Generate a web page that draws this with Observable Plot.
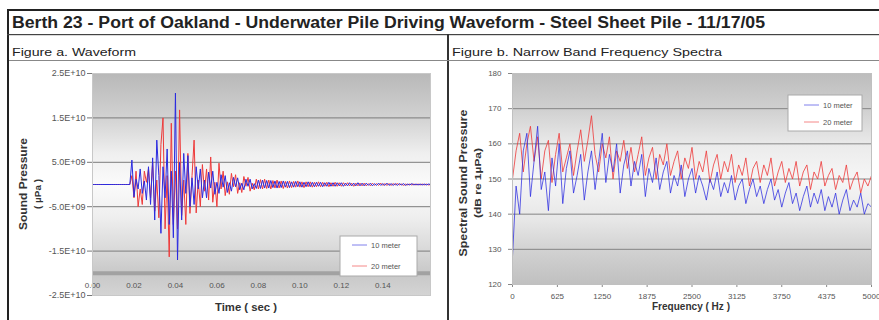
<!DOCTYPE html>
<html><head><meta charset="utf-8">
<script src="https://cdn.jsdelivr.net/npm/d3@7"></script>
<script src="https://cdn.jsdelivr.net/npm/@observablehq/plot@0.6"></script>
<style>
body{margin:0;background:#fff;}
#wrap{position:relative;width:879px;height:320px;overflow:hidden;background:#fff;font-family:"Liberation Sans",Arial,sans-serif;}
#chartA,#chartB,#overlay{position:absolute;top:0;}
#chartA{left:0;} #chartB{left:448px;}
#overlay{left:0;pointer-events:none;}
</style></head><body>
<div id="wrap">
<svg width="0" height="0" style="position:absolute">
<defs>
<linearGradient id="gA" x1="0" y1="0" x2="0" y2="1">
 <stop offset="0" stop-color="#b8b8b8"/>
 <stop offset="0.2" stop-color="#d2d2d2"/>
 <stop offset="0.36" stop-color="#efefef"/>
 <stop offset="0.5" stop-color="#fbfbfb"/>
 <stop offset="0.65" stop-color="#eeeeee"/>
 <stop offset="0.8" stop-color="#d8d8d8"/>
 <stop offset="0.9" stop-color="#c8c8c8"/>
 <stop offset="1" stop-color="#d4d4d4"/>
</linearGradient>
<linearGradient id="gB" x1="0" y1="0" x2="0" y2="1">
 <stop offset="0" stop-color="#bdbdbd"/>
 <stop offset="0.17" stop-color="#d0d0d0"/>
 <stop offset="0.35" stop-color="#ececec"/>
 <stop offset="0.5" stop-color="#f6f6f6"/>
 <stop offset="0.7" stop-color="#e6e6e6"/>
 <stop offset="0.85" stop-color="#d0d0d0"/>
 <stop offset="1" stop-color="#c0c0c0"/>
</linearGradient>
</defs></svg>
<div id="chartA"></div>
<div id="chartB"></div>
<svg id="overlay" width="879" height="320"></svg>
</div>
<script>
// ---------- DATA ----------
const mainTitle = "Berth 23 - Port of Oakland - Underwater Pile Driving Waveform - Steel Sheet Pile - 11/17/05";
const panelTitles = ["Figure a. Waveform", "Figure b. Narrow Band Frequency Spectra"];
const seriesNames = ["10 meter", "20 meter"];
const seriesColors = ["#2b2be0", "#ee3a3a"];

// Figure a: waveform, sound pressure in units of 1e9 µPa, one sample per millisecond
const waveTimeStep = 0.001;
const wave10m = [
0,0,0,0,0,0,0,0,0,0,
0,0,0,0,0,0,0,0,0,
5.5,-2.8,1.2,-1.0,3.5,-2.0,0.8,-3.5,4.0,-4.5,
6.0,-8.0,10.0,2.0,-11.0,4.0,-3.0,8.0,-9.0,3.0,
-12.0,20.6,-17.0,5.0,-8.0,7.0,-2.0,6.5,-5.0,1.5,
-4.5,4.0,-1.0,3.5,-3.0,1.0,-3.0,2.8,-0.8,3.0,
-2.2,0.5,-2.0,2.2,-0.6,2.0,-1.8,0.4,-1.5,1.6,
-0.5,1.5,-1.2,0.3,-1.2,1.2,-0.4,1.2,-1.0,0.2,
-0.9,1.0,
-0.9,1.0,-0.8,0.9,-0.8,0.9,-0.7,0.8,-0.8,0.7,
-0.7,0.8,-0.6,0.7,-0.7,0.6,-0.6,0.7,-0.5,0.6,
-0.6,0.5,-0.5,0.6,-0.5,0.5,-0.5,0.5,-0.4,0.5,
-0.5,0.4,-0.4,0.5,-0.4,0.4,-0.4,0.4,-0.3,0.4,
-0.4,0.3,-0.3,0.4,-0.3,0.3,-0.3,0.4,-0.3,0.3,
-0.3,0.3,-0.2,0.3,-0.3,0.2,-0.2,0.3,-0.2,0.2,
-0.2,0.3,-0.2,0.2,-0.2,0.2,-0.2,0.2,-0.1,0.2,
-0.2,0.1,-0.1,0.2,-0.1,0.1,-0.1,0.1,-0.1,0.1,
-0.1,0.1,0
];
const wave20m = [
0,0,0,0,0,0,0,0,0,0,
0,0,0,0,0,0,0,0,0,
2.0,-3.0,3.0,-5.0,-1.0,-4.5,3.0,0.5,3.5,-3.0,
5.0,-6.0,1.0,-7.5,9.0,15.0,-10.0,2.0,-16.3,13.8,
-9.0,3.0,-10.0,16.8,-7.0,1.0,-9.0,7.0,-6.5,2.0,
10.0,-6.4,1.0,-5.0,4.5,-1.5,3.5,-3.5,6.2,-4.0,
0.5,-5.0,4.8,-1.0,3.0,-2.5,0.6,-2.2,2.5,-0.5,
2.2,-2.0,0.4,-1.8,1.8,-0.4,1.6,-1.5,0.3,-1.2,
1.2,-1.0,
1.1,-1.0,1.2,-0.9,1.0,-1.0,0.9,-0.8,1.0,-0.8,
0.8,-0.9,0.7,-0.8,0.8,-0.7,0.7,-0.6,0.8,-0.6,
0.6,-0.7,0.6,-0.5,0.6,-0.6,0.5,-0.5,0.6,-0.5,
0.5,-0.4,0.5,-0.5,0.4,-0.4,0.5,-0.4,0.4,-0.4,
0.4,-0.3,0.4,-0.3,0.3,-0.4,0.3,-0.3,0.3,-0.3,
0.3,-0.3,0.2,-0.3,0.3,-0.2,0.2,-0.2,0.3,-0.2,
0.2,-0.2,0.2,-0.2,0.2,-0.1,0.2,-0.1,0.1,-0.2,
0.1,-0.1,0.1,-0.1,0.1,-0.1,0.1,-0.1,0.1,-0.1,
0.1,-0.1,0
];
const waveYTicks = [25, 15, 5, -5, -15, -25];
const waveYTickLabels = ["2.5E+10", "1.5E+10", "5.0E+09", "-5.0E+09", "-1.5E+10", "-2.5E+10"];
const waveXTicks = [0, 0.02, 0.04, 0.06, 0.08, 0.10, 0.12, 0.14];
const waveXTickLabels = ["0.00", "0.02", "0.04", "0.06", "0.08", "0.10", "0.12", "0.14"];
const waveAxisCross = -20;

// Figure b: narrow band spectra, dB re 1µPa, every 50 Hz
const specStep = 50;
const spec10m = [
128,148,140,158,163,145,155,165,147,152,
141,156,148,160,143,153,158,146,151,157,
144,152,158,147,155,163,149,157,152,160,
146,154,158,148,155,151,157,145,153,149,
156,147,152,155,146,151,148,154,145,150,
153,146,151,148,144,150,147,152,145,149,
146,151,144,148,150,143,147,150,145,148,
143,147,150,144,147,142,146,149,143,146,
141,145,148,142,146,143,147,141,145,142,
146,140,144,147,141,144,142,146,140,143,
142
];
const spec20m = [
150,158,163,152,160,165,155,162,150,158,
161,149,157,163,152,156,160,151,158,164,
155,161,168,157,152,160,156,162,150,158,
155,161,153,159,152,157,162,151,156,159,
150,157,154,160,151,155,158,150,156,153,
159,150,155,152,158,149,154,157,150,155,
152,157,149,154,151,156,148,153,155,149,
154,151,156,148,152,155,149,153,150,155,
148,152,154,147,152,150,155,148,151,153,
147,151,149,154,147,150,152,146,150,148,
151
];
const specYTicks = [120, 130, 140, 150, 160, 170, 180];
const specXTicks = [0, 625, 1250, 1875, 2500, 3125, 3750, 4375, 5000];
const specXTickLabels = ["0", "625", "1250", "1875", "2500", "3125", "3750", "4375", "5000"];

// ---------- TABLES ----------
const waveA = wave10m.map((v, i) => ({t: i * waveTimeStep, v}));
const waveB = wave20m.map((v, i) => ({t: i * waveTimeStep, v}));
const specA = spec10m.map((v, i) => ({f: i * specStep, v}));
const specB = spec20m.map((v, i) => ({f: i * specStep, v}));

const font = '"Liberation Sans", Arial, sans-serif';

const chartA = Plot.plot({
  width: 448, height: 320,
  marginLeft: 92, marginRight: 18, marginTop: 73, marginBottom: 25,
  x: {domain: [0, 0.163]},
  y: {domain: [-25, 25]},
  style: {fontFamily: font, fontSize: "8px", color: "#444", background: "transparent", overflow: "visible"},
  marks: [
    Plot.frame({fill: "url(#gA)", stroke: null}),
    Plot.ruleY(waveYTicks.slice(0, 5), {stroke: "#7c7c7c", strokeWidth: 1}),
    Plot.ruleY([waveAxisCross], {stroke: "#a2a2a2", strokeWidth: 4}),
    Plot.line(waveB, {x: "t", y: "v", stroke: seriesColors[1], strokeWidth: 1}),
    Plot.line(waveA, {x: "t", y: "v", stroke: seriesColors[0], strokeWidth: 1}),
    Plot.axisY({ticks: waveYTicks, tickFormat: d => waveYTickLabels[waveYTicks.indexOf(d)], tickSize: 5, tickPadding: 2, label: null, stroke: "#777", fill: "#555", fontSize: 9}),
    Plot.axisX({ticks: waveXTicks, tickFormat: d => waveXTickLabels[waveXTicks.indexOf(d)], tickSize: 0, tickPadding: 0, dy: -13, label: null, fill: "#555", fontSize: 8}),
    Plot.frame({stroke: "#c8c8c8"})
  ]
});
document.getElementById("chartA").append(chartA);

const chartB = Plot.plot({
  width: 431, height: 320,
  marginLeft: 64, marginRight: 8, marginTop: 73, marginBottom: 36,
  x: {domain: [0, 5000]},
  y: {domain: [120, 180]},
  style: {fontFamily: font, fontSize: "8px", color: "#444", background: "transparent", overflow: "visible"},
  marks: [
    Plot.frame({fill: "url(#gB)", stroke: null}),
    Plot.ruleY(specYTicks.slice(1, 6), {stroke: "#858585", strokeWidth: 1}),
    Plot.line(specB, {x: "f", y: "v", stroke: seriesColors[1], strokeWidth: 1, strokeOpacity: 0.8}),
    Plot.line(specA, {x: "f", y: "v", stroke: seriesColors[0], strokeWidth: 1, strokeOpacity: 0.75}),
    Plot.axisY({ticks: specYTicks, tickSize: 4, tickPadding: 7, label: null, stroke: "#888", fill: "#555", fontSize: 8}),
    Plot.axisX({ticks: specXTicks, tickFormat: d => specXTickLabels[specXTicks.indexOf(d)], tickSize: 3, tickPadding: 6, label: null, stroke: "#888", fill: "#555", fontSize: 8}),
    Plot.frame({stroke: "#c0c0c0"})
  ]
});
document.getElementById("chartB").append(chartB);

// ---------- OVERLAY: borders, titles, legends ----------
const ov = d3.select("#overlay").style("font-family", font);
ov.append("rect").attr("x", 7).attr("y", 9).attr("width", 872).attr("height", 2).attr("fill", "#222");
ov.append("rect").attr("x", 7).attr("y", 9).attr("width", 2).attr("height", 311).attr("fill", "#222");
ov.append("rect").attr("x", 7).attr("y", 34).attr("width", 872).attr("height", 1.2).attr("fill", "#444");
ov.append("rect").attr("x", 447).attr("y", 34).attr("width", 2).attr("height", 286).attr("fill", "#333");
ov.append("rect").attr("x", 9).attr("y", 60).attr("width", 870).attr("height", 1).attr("fill", "#888");

ov.append("text").attr("x", 12).attr("y", 28).attr("font-size", 16).attr("font-weight", "bold")
  .attr("fill", "#222").attr("textLength", 753).attr("lengthAdjust", "spacingAndGlyphs").text(mainTitle);
ov.append("text").attr("x", 12).attr("y", 56).attr("font-size", 11).attr("fill", "#222")
  .attr("textLength", 124).attr("lengthAdjust", "spacingAndGlyphs").text(panelTitles[0]);
ov.append("text").attr("x", 452).attr("y", 56).attr("font-size", 11).attr("fill", "#222")
  .attr("textLength", 270).attr("lengthAdjust", "spacingAndGlyphs").text(panelTitles[1]);

function vtext(x, y, len, str, size) {
  ov.append("text").attr("transform", `translate(${x},${y}) rotate(-90)`).attr("text-anchor", "middle")
    .attr("font-size", size).attr("font-weight", "bold").attr("fill", "#333")
    .attr("textLength", len).attr("lengthAdjust", "spacingAndGlyphs").text(str);
}
vtext(27, 184, 92, "Sound Pressure", 10);
vtext(41, 194, 30, "( µPa )", 9);
vtext(467, 183, 147, "Spectral Sound Pressure", 10);
vtext(481, 183, 70, "(dB re 1µPa)", 9);

ov.append("text").attr("x", 215).attr("y", 311).attr("font-size", 10).attr("font-weight", "bold").attr("fill", "#333")
  .attr("textLength", 62).attr("lengthAdjust", "spacingAndGlyphs").text("Time ( sec )");
ov.append("text").attr("x", 652).attr("y", 310).attr("font-size", 10).attr("font-weight", "bold").attr("fill", "#333")
  .attr("textLength", 78).attr("lengthAdjust", "spacingAndGlyphs").text("Frequency ( Hz )");

function legend(x, y, w, h, lx, ly1, ly2) {
  ov.append("rect").attr("x", x).attr("y", y).attr("width", w).attr("height", h).attr("fill", "#fff").attr("stroke", "#aaa");
  [ly1, ly2].forEach((ly, i) => {
    ov.append("line").attr("x1", lx).attr("x2", lx + 15).attr("y1", ly).attr("y2", ly)
      .attr("stroke", seriesColors[i]).attr("stroke-opacity", 0.6).attr("stroke-width", 1);
    ov.append("text").attr("x", lx + 19).attr("y", ly + 3).attr("font-size", 7.5).attr("fill", "#555").text(seriesNames[i]);
  });
}
legend(340, 236, 77, 40, 352, 245, 266);
legend(788, 95, 74, 36, 804, 105, 122);
</script>
</body></html>
